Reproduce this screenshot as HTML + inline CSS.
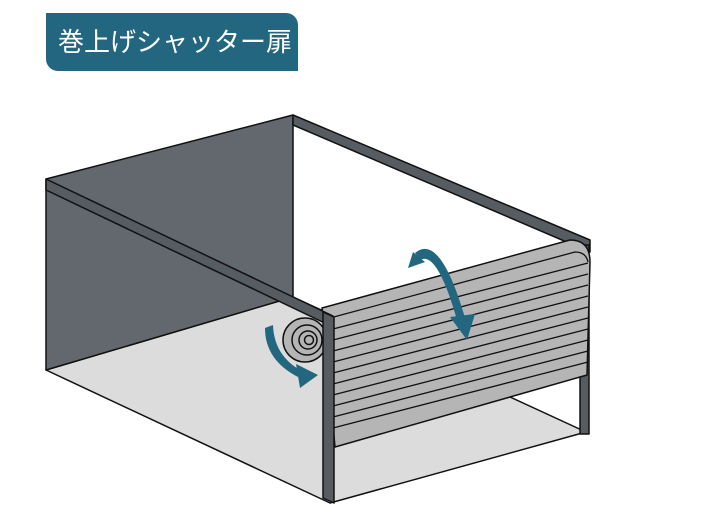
<!DOCTYPE html>
<html><head><meta charset="utf-8"><style>
html,body{margin:0;padding:0;background:#fff;width:716px;height:529px;overflow:hidden}
.lbl{position:absolute;left:46px;top:13px;width:252px;height:58px;background:#236680;border-radius:0 12px 0 12px;color:#fff;font-family:"Liberation Sans","Noto Sans CJK JP",sans-serif;font-size:26px;line-height:58px;text-indent:12px;letter-spacing:0px;white-space:nowrap}
svg{position:absolute;left:0;top:0}
</style></head><body>
<div class="lbl">巻上げシャッター扉</div>
<svg width="716" height="529" viewBox="0 0 716 529">
<g stroke="#111" stroke-width="1.5" stroke-linejoin="round">
<polygon points="46,370 293,297 586,432 330,503" fill="#dcdcdc"/>
<polygon points="46,179 293,115 293,297 46,370" fill="#62686d"/>
<polygon points="293,115 590,240 590,252 293,125" fill="#565c61"/>
<rect x="580" y="245" width="9" height="189" fill="#565c61"/>
<path d="M322,308 L570,240 Q590,240 590,262 L587,375 L335,447 Z" fill="#b5b5b5"/>
<g fill="none" stroke-width="1.3">
<path d="M330,318 L575,252 Q586,252 588,262"/>
<path d="M333,329 L588,263"/>
<path d="M333,340 L588,274"/>
<path d="M333,351 L588,285"/>
<path d="M333,362 L588,296"/>
<path d="M333,373 L588,307"/>
<path d="M333,384 L588,318"/>
<path d="M333,395 L588,329"/>
<path d="M333,406 L588,340"/>
<path d="M333,417 L588,351"/>
<path d="M333,428 L588,362"/>
</g>
<polygon points="46,179 333,316 333,327 46,190" fill="#565c61"/>
<circle cx="305" cy="340" r="22" fill="#b5b5b5"/>
<circle cx="307" cy="340" r="15" fill="none"/>
<circle cx="308" cy="340" r="9" fill="none"/>
<circle cx="309" cy="340" r="4.5" fill="none"/>
<polygon points="323,312 334,317 334,503 323,498" fill="#565c61"/>
</g>
<g fill="#236680">
<path d="M265,328 L273,325 Q274,355 300,370 L298,377 Q265,360 265,328 Z"/>
<polygon points="296,364 318,375 300,388"/>
<path d="M415,253 Q440,232 465,318 L457,320 Q437,250 420,260 Z"/>
<polygon points="408,268 413,252 425,262"/>
<polygon points="450,317 475,314 467,340"/>
</g>
</svg>
</body></html>
